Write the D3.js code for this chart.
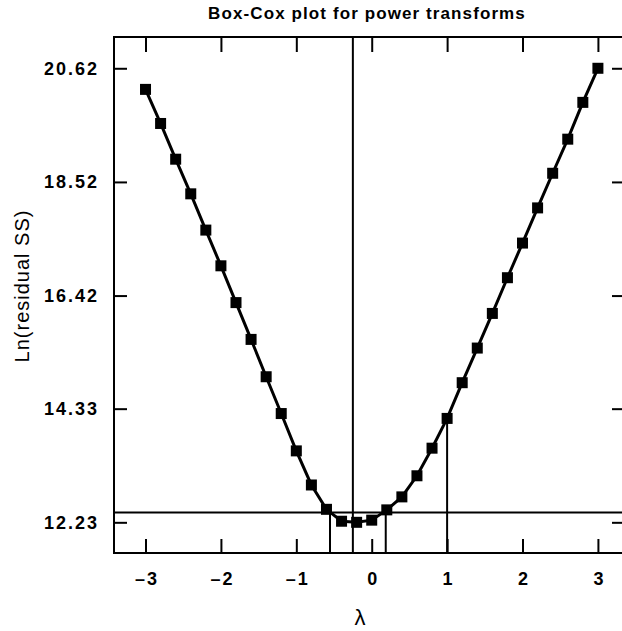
<!DOCTYPE html>
<html>
<head>
<meta charset="utf-8">
<script src="https://cdn.jsdelivr.net/npm/d3@7"></script>
<style>
  body { margin: 0; background: #fff; }
  text { font-family: "Liberation Sans", Arial, Helvetica, sans-serif; }
</style>
</head>
<body>
<div id="chart"></div>
<script>
// Box-Cox plot

const lambdas = [-3, -2.8, -2.6, -2.4, -2.2, -2, -1.8, -1.6, -1.4, -1.2, -1, -0.8, -0.6, -0.4, -0.2,
  0, 0.2, 0.4, 0.6, 0.8, 1, 1.2, 1.4, 1.6, 1.8, 2, 2.2, 2.4, 2.6, 2.8, 3];
const lnSS = [20.23, 19.60, 18.94, 18.30, 17.63, 16.97, 16.29, 15.61, 14.92, 14.24, 13.55, 12.92, 12.47, 12.25, 12.23,
  12.27, 12.46, 12.70, 13.09, 13.60, 14.15, 14.81, 15.45, 16.09, 16.75, 17.39, 18.04, 18.68, 19.31, 19.99, 20.62];

const xTicks = [-3, -2, -1, 0, 1, 2, 3];
const yTicks = [12.23, 14.33, 16.42, 18.52, 20.62];
const yTickLabels = ["12.23", "14.33", "16.42", "18.52", "20.62"];

const lambdaBest = -0.25;
const ciLow = -0.553;
const ciHigh = 0.186;
const ciLevel = 12.41;
const refLambda = 1;

const width = 622;
const height = 631;
const box = { left: 114, right: 624, top: 37, bottom: 553 };

const svg = d3.select("#chart")
    .append("svg")
    .attr("width", width)
    .attr("height", height);

const x = d3.scaleLinear()
    .domain([-3.418, 3.346])
    .range([box.left, box.right]);

const y = d3.scaleLinear()
    .domain([11.663, 21.198])
    .range([box.bottom, box.top]);

// axes, ticks pointing inward
const axisFont = g => g.selectAll("text")
    .style("font-size", "18px")
    .style("font-weight", "bold")
    .style("letter-spacing", "2px")
    .attr("fill", "#000");

svg.append("g")
    .attr("transform", "translate(0," + box.bottom + ")")
    .call(d3.axisBottom(x).tickValues(xTicks).tickSize(-14).tickPadding(19)
        .tickFormat(d => d < 0 ? "\u2013" + Math.abs(d) : d))
    .call(g => g.select(".domain").remove())
    .call(g => g.selectAll("line").attr("stroke", "#000").attr("stroke-width", 2))
    .call(axisFont)
    .call(g => g.selectAll("text").attr("dx", "1px"));

svg.append("g")
    .attr("transform", "translate(0," + box.top + ")")
    .call(d3.axisTop(x).tickValues(xTicks).tickSize(-15).tickFormat(""))
    .call(g => g.select(".domain").remove())
    .call(g => g.selectAll("line").attr("stroke", "#000").attr("stroke-width", 2));

svg.append("g")
    .attr("transform", "translate(" + box.left + ",0)")
    .call(d3.axisLeft(y).tickValues(yTicks).tickSize(-13).tickPadding(15)
        .tickFormat((d, i) => yTickLabels[i]))
    .call(g => g.select(".domain").remove())
    .call(g => g.selectAll("line").attr("stroke", "#000").attr("stroke-width", 2))
    .call(axisFont);

svg.append("g")
    .attr("transform", "translate(" + box.right + ",0)")
    .call(d3.axisRight(y).tickValues(yTicks).tickSize(-12).tickFormat(""))
    .call(g => g.select(".domain").remove())
    .call(g => g.selectAll("line").attr("stroke", "#000").attr("stroke-width", 2));

// frame
svg.append("rect")
    .attr("x", box.left)
    .attr("y", box.top)
    .attr("width", box.right - box.left)
    .attr("height", box.bottom - box.top)
    .attr("fill", "none")
    .attr("stroke", "#000")
    .attr("stroke-width", 2);

// reference lines
svg.append("line")
    .attr("x1", box.left).attr("x2", box.right)
    .attr("y1", y(ciLevel)).attr("y2", y(ciLevel))
    .attr("stroke", "#000").attr("stroke-width", 2);

svg.append("line")
    .attr("x1", x(lambdaBest)).attr("x2", x(lambdaBest))
    .attr("y1", box.top).attr("y2", box.bottom)
    .attr("stroke", "#000").attr("stroke-width", 2);

[ciLow, ciHigh].forEach(function(l) {
    svg.append("line")
        .attr("x1", x(l)).attr("x2", x(l))
        .attr("y1", y(ciLevel)).attr("y2", box.bottom)
        .attr("stroke", "#000").attr("stroke-width", 2);
});

svg.append("line")
    .attr("x1", x(refLambda)).attr("x2", x(refLambda))
    .attr("y1", y(lnSS[lambdas.indexOf(refLambda)])).attr("y2", box.bottom)
    .attr("stroke", "#000").attr("stroke-width", 2);

// curve and markers
const points = lambdas.map((l, i) => ({ l: l, v: lnSS[i] }));

const line = d3.line()
    .x(d => x(d.l))
    .y(d => y(d.v));

svg.append("path")
    .datum(points)
    .attr("d", line)
    .attr("fill", "none")
    .attr("stroke", "#000")
    .attr("stroke-width", 3);

const ms = 11;
svg.selectAll(".marker")
    .data(points)
    .enter()
    .append("rect")
    .attr("class", "marker")
    .attr("x", d => x(d.l) - ms / 2)
    .attr("y", d => y(d.v) - ms / 2)
    .attr("width", ms)
    .attr("height", ms)
    .attr("fill", "#000");

// labels
svg.append("text")
    .attr("x", 367)
    .attr("y", 19)
    .style("text-anchor", "middle")
    .style("font-weight", "bold")
    .style("font-size", "17px")
    .style("letter-spacing", "1.1px")
    .text("Box-Cox plot for power transforms");

svg.append("text")
    .attr("transform", "translate(29,286) rotate(-90)")
    .style("text-anchor", "middle")
    .style("font-size", "20px")
    .style("letter-spacing", "1px")
    .text("Ln(residual SS)");

svg.append("text")
    .attr("x", 360)
    .attr("y", 625)
    .style("text-anchor", "middle")
    .style("font-size", "22px")
    .text("\u03bb");
</script>
</body>
</html>
